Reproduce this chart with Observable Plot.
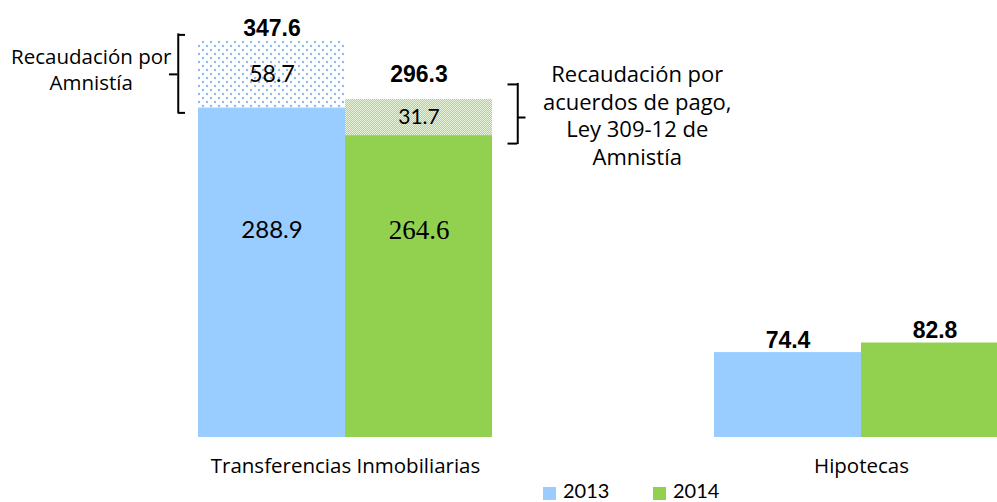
<!DOCTYPE html>
<html><head><meta charset="utf-8">
<script src="https://cdn.jsdelivr.net/npm/d3@7"></script>
<script src="https://cdn.jsdelivr.net/npm/@observablehq/plot@0.6"></script>
<style>
html,body{margin:0;padding:0;background:#fff;overflow:hidden;width:997px;height:502px;}
#chart svg{display:block;overflow:hidden;}
#legend{position:relative;height:22px;font-family:Lato,"Open Sans",sans-serif;font-size:20px;color:#000;}
.sw{position:absolute;top:7px;width:13px;height:13px;}
.lt{position:absolute;top:-1px;line-height:22px;}
</style></head><body><div id="chart"></div><div id="legend"></div>
<script>
const categories = ["Transferencias Inmobiliarias", "Hipotecas"];
const years = ["2013", "2014"];
const base2013 = [288.9, 74.4];
const base2014 = [264.6, 82.8];
const amnesty2013 = [58.7, null];
const amnesty2014 = [31.7, null];
const total2013 = [347.6, 74.4];
const total2014 = [296.3, 82.8];
const bracketLabels = ["Recaudación por\nAmnistía", "Recaudación por\nacuerdos de pago,\nLey 309-12 de\nAmnistía"];
const colors = ["#99CCFF", "#92D050"];

const rows = [];
categories.forEach((cat, i) => {
  rows.push({cat, year: years[0], base: base2013[i], amnesty: amnesty2013[i], total: total2013[i], label: bracketLabels[0]});
  rows.push({cat, year: years[1], base: base2014[i], amnesty: amnesty2014[i], total: total2014[i], label: bracketLabels[1]});
});
const r13 = rows.filter(d => d.year === years[0]);
const r14 = rows.filter(d => d.year === years[1]);
const a13 = r13.filter(d => d.amnesty != null);
const a14 = r14.filter(d => d.amnesty != null);
const fmt = d3.format(".1f");
const mid = d => (d.base + d.total) / 2;
const sans = "Lato, 'Open Sans', sans-serif";
const open = "'Open Sans', sans-serif";
const bold = "'Liberation Sans', Arial, sans-serif";

const chart = Plot.plot({
  width: 997, height: 480,
  marginLeft: 197, marginRight: -12, marginTop: 0, marginBottom: 43,
  fx: {domain: categories, paddingInner: 0.4294, paddingOuter: 0, axis: null},
  x: {domain: years, padding: 0, axis: null},
  y: {domain: [0, 383], axis: null},
  style: {background: "white", fontFamily: sans, overflow: "hidden"},
  marks: [
    Plot.barY(r13, {fx: "cat", x: "year", y1: 0, y2: "base", fill: colors[0]}),
    Plot.barY(r14, {fx: "cat", x: "year", y1: 0, y2: "base", fill: colors[1]}),
    Plot.barY(a13, {fx: "cat", x: "year", y1: "base", y2: "total", fill: "url(#dots)"}),
    Plot.barY(a14, {fx: "cat", x: "year", y1: "base", y2: "total", fill: "url(#checks)"}),
    // base value labels
    Plot.text(a13, {fx: "cat", x: "year", text: d => fmt(d.base), frameAnchor: "middle", dy: 11, fontSize: 24, fontFamily: sans}),
    Plot.text(a14, {fx: "cat", x: "year", text: d => fmt(d.base), frameAnchor: "middle", dy: 11, fontSize: 27, fontFamily: "'Liberation Serif', serif"}),
    // amnesty labels
    Plot.text(a13, {fx: "cat", x: "year", y: mid, text: d => fmt(d.amnesty), fontSize: 23, fontFamily: sans}),
    Plot.text(a14, {fx: "cat", x: "year", y: mid, text: d => fmt(d.amnesty), fontSize: 21, fontFamily: sans}),
    // totals
    Plot.text(rows.filter(d => !(d.year === years[1] && d.amnesty != null)), {fx: "cat", x: "year", y: "total", text: d => fmt(d.total), lineAnchor: "bottom", dy: -5, fontSize: 23, fontWeight: "bold", fontFamily: bold}),
    Plot.text(a14, {fx: "cat", x: "year", y: "total", text: d => fmt(d.total), lineAnchor: "bottom", dy: -17, fontSize: 23, fontWeight: "bold", fontFamily: bold}),
    // left bracket (2013)
    Plot.ruleX(a13, {fx: "cat", x: "year", y1: "total", y2: "base", dx: -93.75, insetTop: -7, insetBottom: -6, stroke: "black", strokeWidth: 2}),
    Plot.tickY(a13, {fx: "cat", x: "year", y: "total", dx: -20, dy: -6, insetRight: 140, stroke: "black", strokeWidth: 2}),
    Plot.tickY(a13, {fx: "cat", x: "year", y: "base", dx: -20, dy: 5, insetRight: 140, stroke: "black", strokeWidth: 2}),
    Plot.tickY(a13, {fx: "cat", x: "year", y: mid, dx: -29, insetRight: 138.5, stroke: "black", strokeWidth: 2}),
    Plot.text(a13, {fx: "cat", x: "year", y: mid, text: "label", dx: -180.75, dy: -6, lineHeight: 1.27, fontSize: 20.5, fontFamily: open}),
    // right bracket (2014)
    Plot.ruleX(a14, {fx: "cat", x: "year", y1: "total", y2: "base", dx: 98.75, insetTop: -16, insetBottom: -9, stroke: "black", strokeWidth: 2}),
    Plot.tickY(a14, {fx: "cat", x: "year", y: "total", dx: 25, dy: -15, insetLeft: 137.5, stroke: "black", strokeWidth: 2}),
    Plot.tickY(a14, {fx: "cat", x: "year", y: "base", dx: 25, dy: 8, insetLeft: 137.5, stroke: "black", strokeWidth: 2}),
    Plot.tickY(a14, {fx: "cat", x: "year", y: mid, dx: 33.5, insetLeft: 138.5, stroke: "black", strokeWidth: 2}),
    Plot.text(a14, {fx: "cat", x: "year", y: mid, text: "label", dx: 218.25, dy: -3, lineHeight: 1.25, fontSize: 22, fontFamily: open}),
    // category labels
    Plot.text(categories, {fx: d => d, text: d => d, frameAnchor: "bottom", dy: 35, fontSize: 20.5, fontFamily: open})
  ]
});

const svg = d3.select(chart);
const defs = svg.insert("defs", ":first-child");
const dots = defs.append("pattern").attr("id", "dots").attr("patternUnits", "userSpaceOnUse").attr("width", 8).attr("height", 8);
dots.append("rect").attr("width", 8).attr("height", 8).attr("fill", "white");
dots.append("circle").attr("cx", 2).attr("cy", 2).attr("r", 1.2).attr("fill", "#8fb9ee");
dots.append("circle").attr("cx", 6).attr("cy", 6).attr("r", 1.2).attr("fill", "#8fb9ee");
const checks = defs.append("pattern").attr("id", "checks").attr("patternUnits", "userSpaceOnUse").attr("width", 4).attr("height", 4);
checks.append("rect").attr("width", 4).attr("height", 4).attr("fill", "#e8f4da");
[[0,0],[2,0],[1,1],[3,1],[0,2],[2,2],[1,3],[3,3]].forEach(([x, y]) =>
  checks.append("rect").attr("x", x).attr("y", y).attr("width", 1).attr("height", 1).attr("fill", "#acd780"));
document.getElementById("chart").appendChild(chart);

const legend = d3.select("#legend");
const lx = [543, 653];
years.forEach((y, i) => {
  legend.append("div").attr("class", "sw").style("left", lx[i] + "px").style("background", colors[i]);
  legend.append("div").attr("class", "lt").style("left", (lx[i] + 20) + "px").text(y);
});
</script></body></html>
